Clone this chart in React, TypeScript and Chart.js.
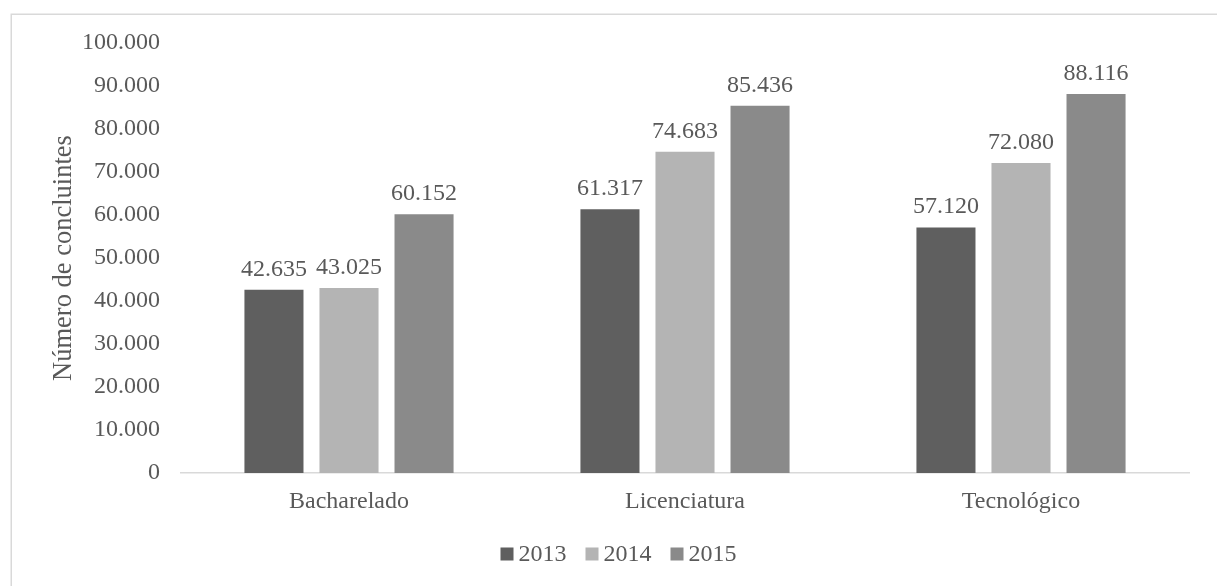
import React, { useEffect, useRef } from "react";
import { Chart, registerables } from "chart.js";

Chart.register(...registerables);

const categories = ["Bacharelado", "Licenciatura", "Tecnológico"];
const seriesNames = ["2013", "2014", "2015"];
const values2013 = [42635, 61317, 57120];
const values2014 = [43025, 74683, 72080];
const values2015 = [60152, 85436, 88116];
const seriesColors = ["#5f5f5f", "#b4b4b4", "#8a8a8a"];
const yMax = 100000;
const yStep = 10000;

const FONT = "'Liberation Serif', 'Times New Roman', serif";
const TEXT = "#595959";

function fmt(n: number): string {
  return Math.round(n).toString().replace(/\B(?=(\d{3})+(?!\d))/g, ".");
}

const frameAndLabels = {
  id: "frameAndLabels",
  beforeDraw(chart: any) {
    const ctx = chart.ctx;
    ctx.save();
    ctx.fillStyle = "#ffffff";
    ctx.fillRect(0, 0, chart.width, chart.height);
    ctx.strokeStyle = "#d9d9d9";
    ctx.lineWidth = 1.5;
    ctx.strokeRect(11.25, 14.25, 1300, 700);
    ctx.restore();
  },
  afterDatasetsDraw(chart: any) {
    const ctx = chart.ctx;
    ctx.save();
    ctx.font = `24px ${FONT}`;
    ctx.fillStyle = TEXT;
    ctx.textAlign = "center";
    ctx.textBaseline = "alphabetic";
    chart.data.datasets.forEach((ds: any, i: number) => {
      const meta = chart.getDatasetMeta(i);
      meta.data.forEach((bar: any, j: number) => {
        ctx.fillText(fmt(ds.data[j]), bar.x, bar.y - 14);
      });
    });
    ctx.restore();
  },
  afterDraw(chart: any) {
    const ctx = chart.ctx;
    ctx.save();
    ctx.font = `24px ${FONT}`;
    const box = 13;
    const gap = 5;
    const spacing = 19;
    const items = chart.data.datasets.map((ds: any) => ({
      label: ds.label,
      color: ds.backgroundColor,
      w: ctx.measureText(ds.label).width,
    }));
    const total =
      items.reduce((s: number, it: any) => s + box + gap + it.w, 0) +
      spacing * (items.length - 1);
    let x = 618.5 - total / 2;
    const cy = 554;
    items.forEach((it: any) => {
      ctx.fillStyle = it.color;
      ctx.fillRect(x, cy - box / 2, box, box);
      ctx.fillStyle = TEXT;
      ctx.textAlign = "left";
      ctx.textBaseline = "middle";
      ctx.fillText(it.label, x + box + gap, cy + 1);
      x += box + gap + it.w + spacing;
    });
    ctx.restore();
  },
};

export default function App() {
  const ref = useRef<HTMLCanvasElement | null>(null);

  useEffect(() => {
    if (!ref.current) return;
    const seriesValues = [values2013, values2014, values2015];
    const chart = new Chart(ref.current, {
      type: "bar",
      data: {
        labels: categories,
        datasets: seriesNames.map((name, i) => ({
          label: name,
          data: seriesValues[i],
          backgroundColor: seriesColors[i],
          borderWidth: 0,
          categoryPercentage: 0.67,
          barPercentage: 0.787,
        })),
      },
      options: {
        animation: false,
        responsive: false,
        devicePixelRatio: 1,
        layout: { padding: { left: 40, top: 43, right: 28, bottom: 0 } },
        plugins: {
          legend: { display: false },
          tooltip: { enabled: false },
          title: { display: false },
        },
        scales: {
          x: {
            grid: { display: false, drawTicks: false },
            border: { display: true, color: "#d9d9d9", width: 1.5 },
            ticks: {
              color: TEXT,
              font: { family: FONT, size: 24 },
              padding: 14,
            },
            afterFit(scale: any) {
              scale.height = 113;
            },
          },
          y: {
            min: 0,
            max: yMax,
            grid: { display: false, drawTicks: false },
            border: { display: false },
            ticks: {
              stepSize: yStep,
              color: TEXT,
              font: { family: FONT, size: 24 },
              padding: 21,
              callback: (v: any) => fmt(Number(v)),
            },
            title: {
              display: true,
              text: "Número de concluintes",
              color: TEXT,
              font: { family: FONT, size: 26.5 },
              padding: { top: 8.5, bottom: 0 },
            },
            afterFit(scale: any) {
              scale.width = 141;
            },
          },
        },
      },
      plugins: [frameAndLabels],
    });
    return () => chart.destroy();
  }, []);

  return (
    <div style={{ position: "absolute", left: 0, top: 0, width: 1217, height: 586 }}>
      <canvas ref={ref} width={1217} height={586} style={{ display: "block" }} />
    </div>
  );
}
